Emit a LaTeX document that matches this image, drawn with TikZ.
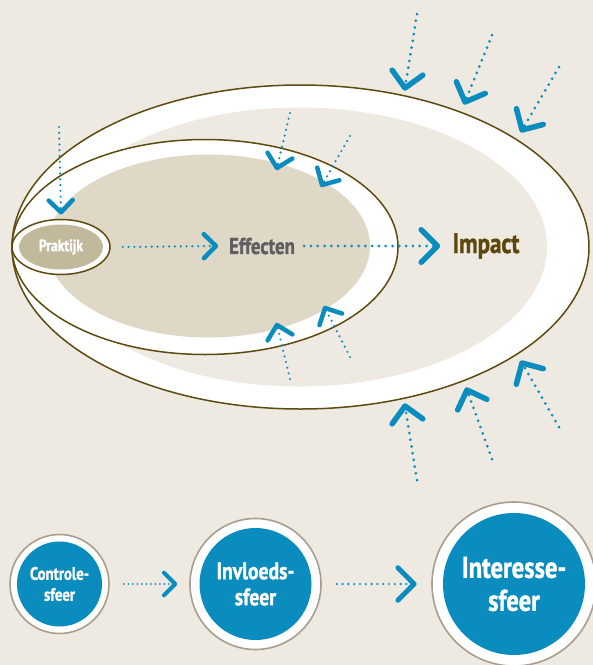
\documentclass[tikz,border=0pt]{standalone}
\usepackage{fontspec}
\setmainfont{PT Sans}[FakeStretch=0.82, BoldFeatures={FakeBold=1.2}]
\usetikzlibrary{calc,shapes.geometric}

\definecolor{achtergrond}{HTML}{EEEAE1}
\definecolor{kern}{HTML}{DFD8C7}
\definecolor{praktijkkleur}{HTML}{C2B89C}
\definecolor{rand}{HTML}{5E4A0F}
\definecolor{grijs}{HTML}{5F5F63}
\definecolor{impactbruin}{HTML}{5C470C}
\definecolor{blauw}{HTML}{0A8CBF}
\definecolor{cirkelrand}{HTML}{A89E8B}

\tikzset{
  stip/.style={blauw, line width=3pt, dash pattern=on 0pt off 6.8pt, line cap=round},
  stipje/.style={blauw, line width=2.4pt, dash pattern=on 0pt off 5.8pt, line cap=round},
  stipklein/.style={blauw, line width=2pt, dash pattern=on 0pt off 4.5pt, line cap=round},
  kop/.style={blauw, line cap=round, line join=round},
  sfeer/.style={circle, draw=cirkelrand, line width=1.6pt, fill=white, text=white,
    align=center, inner sep=0pt,
    path picture={\fill[blauw] (path picture bounding box.center) circle[radius=#1];}},
}

% dotted shaft with an open chevron at the tip
\newcommand\pijl[5]{%
  \draw[#1] (#2) -- (#3);
  \draw[kop, line width=#5] ($(#3)!#4!45:(#2)$) -- (#3) -- ($(#3)!#4!-45:(#2)$);
}

\begin{document}
\begin{tikzpicture}[x=1pt,y=-1pt]
  \clip (0,0) rectangle (593,665);
  \fill[achtergrond] (0,0) rectangle (593,665);

  % interessesfeer
  \draw[rand, line width=1.5pt, fill=white] (300.5,247) ellipse [x radius=288.5pt, y radius=162pt];
  \fill[achtergrond] (299,247) ellipse [x radius=248pt, y radius=139.5pt];
  % invloedssfeer
  \draw[rand, line width=1.5pt, fill=white] (205,247) ellipse [x radius=193pt, y radius=107.5pt];
  \fill[kern] (208.5,246) ellipse [x radius=161.5pt, y radius=91.5pt];

  % controlesfeer
  \node[ellipse, draw=rand, line width=1.5pt, fill=white, minimum width=98pt, minimum height=55pt,
    path picture={\fill[praktijkkleur] (path picture bounding box.center) ellipse [x radius=42pt, y radius=22.5pt];},
    text=white, font=\bfseries\fontsize{16.5}{17}\selectfont] (prak) at (61,247) {Praktijk};
  \node[inner sep=0pt, text=grijs, font=\bfseries\fontsize{23}{23}\selectfont] (eff) at (262,246) {Effecten};
  \node[inner sep=0pt, text=impactbruin, font=\bfseries\fontsize{28}{28}\selectfont] (imp) at (486,246) {Impact};

  % praktijk -> effecten -> impact
  \coordinate (pin) at (59,127);
  \coordinate (ptip) at ([yshift=6.5pt]prak.north);
  \pijl{stipje}{pin}{ptip}{17pt}{4.5pt}
  \coordinate (pe1) at ([xshift=12pt]prak.east);
  \coordinate (pe2) at ([xshift=-13pt]eff.west);
  \pijl{stipje}{pe1}{pe2}{17pt}{4.5pt}
  \coordinate (ei1) at ([xshift=9pt]eff.east);
  \coordinate (ei2) at ([xshift=-15pt]imp.west);
  \pijl{stip}{ei1}{ei2}{23pt}{5.5pt}

  % invloeden op de middelste sfeer
  \foreach \n/\xa/\ya/\xb/\yb in {mt1/290/113/277/168, mt2/350/136/322/185,
      mb1/290/379/277/325, mb2/350/357/325/308} {
    \coordinate (\n-van) at (\xa,\ya);
    \coordinate (\n-naar) at (\xb,\yb);
    \pijl{stipje}{\n-van}{\n-naar}{18pt}{4.5pt}
  }
  % invloeden op de buitenste sfeer
  \foreach \n/\xa/\ya/\xb/\yb in {ot1/417/14/405/88, ot2/492/35/465/102, ot3/559/67/522/130,
      ob1/417/480/405/406, ob2/492/459/467/390, ob3/559/427/522/363} {
    \coordinate (\n-van) at (\xa,\ya);
    \coordinate (\n-naar) at (\xb,\yb);
    \pijl{stip}{\n-van}{\n-naar}{22pt}{5.5pt}
  }

  % de drie sferen onderaan
  \node[sfeer=42.5pt, minimum size=99pt, font=\bfseries\fontsize{18}{21}\selectfont] (c1) at (59.5,584) {Controle-\\sfeer};
  \node[sfeer=56pt, minimum size=131pt, font=\bfseries\fontsize{24}{26}\selectfont] (c2) at (255.5,584) {Invloeds-\\sfeer};
  \node[sfeer=71pt, minimum size=164pt, font=\bfseries\fontsize{30}{33}\selectfont] (c3) at (514,584) {Interesse-\\sfeer};

  \coordinate (c12s) at ([xshift=14pt]c1.east);
  \coordinate (c12t) at ([xshift=-14pt]c2.west);
  \pijl{stipklein}{c12s}{c12t}{16pt}{4pt}
  \coordinate (c23s) at ([xshift=15pt]c2.east);
  \coordinate (c23t) at ([xshift=-17pt]c3.west);
  \pijl{stipje}{c23s}{c23t}{23pt}{5pt}
\end{tikzpicture}
\end{document}
